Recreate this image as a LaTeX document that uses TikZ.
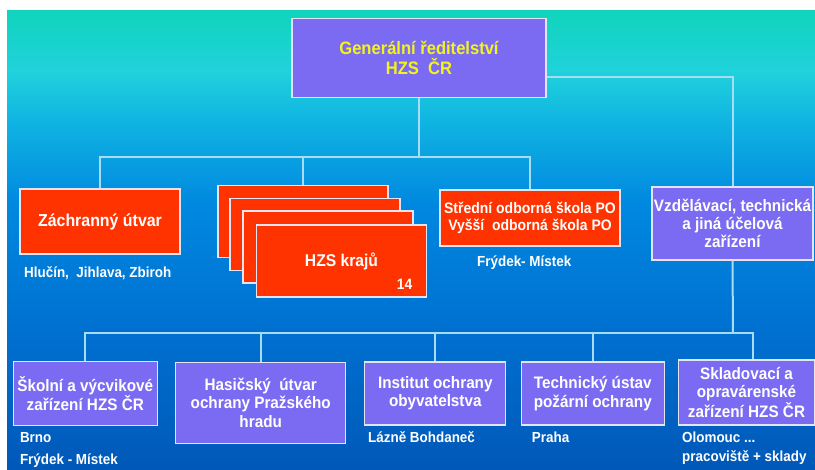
\documentclass[tikz,border=0pt]{standalone}
\usepackage{fontspec}
\usepackage{tikz}
\usetikzlibrary{positioning}
\newfontfamily\orgfont{Liberation Sans}[FakeStretch=0.92]
\newcommand{\headfont}{\orgfont\bfseries\fontsize{18pt}{19.5pt}\selectfont}
\newcommand{\unitfont}{\orgfont\bfseries\fontsize{16.6pt}{18.3pt}\selectfont}
\newcommand{\placefont}{\orgfont\bfseries\fontsize{14.6pt}{16pt}\selectfont}
\definecolor{boxpurple}{HTML}{7B6BF2}
\definecolor{boxred}{HTML}{FF3300}
\definecolor{boxedge}{HTML}{E4E4F4}
\definecolor{linkblue}{HTML}{A8DCF2}
\definecolor{headyellow}{HTML}{F4F41C}
\definecolor{bgtop}{HTML}{10D4BC}
\definecolor{bgcyan}{HTML}{20D2DC}
\definecolor{bgsky}{HTML}{10B4E2}
\definecolor{bgmid}{HTML}{0088E0}
\definecolor{bglow}{HTML}{0070D0}
\definecolor{bgbot}{HTML}{0058B8}
\pgfdeclareverticalshading{bgshade}{100bp}{color(0bp)=(bgbot); color(25bp)=(bgbot); color(40bp)=(bglow); color(54bp)=(bgmid); color(63bp)=(bgsky); color(68.5bp)=(bgcyan); color(75bp)=(bgtop); color(100bp)=(bgtop)}
\tikzstyle{unit}=[rectangle, draw=boxedge, line width=1.2pt, inner sep=0pt, align=center, text=white, font=\unitfont]
\tikzstyle{violetbox}=[unit, fill=boxpurple]
\tikzstyle{firebox}=[unit, fill=boxred]
\tikzstyle{link}=[-, draw=linkblue, line width=2pt]
\tikzstyle{place}=[anchor=base west, inner sep=0pt, text=white, font=\placefont]

\begin{document}
\begin{tikzpicture}[x=1pt, y=-1pt]
        \useasboundingbox (0,0) rectangle (815,470);
        \fill[white] (0,0) rectangle (815,470);
        \shade[shading=bgshade] (7,11) rectangle (815,470);

        % top level
        \node[violetbox, minimum width=254pt, minimum height=79pt, text=headyellow, font=\headfont] (gen) at (419,58) {Generální ředitelství\\HZS\ \ ČR};

        % second level
        \node[firebox, minimum width=160pt, minimum height=65pt, font=\orgfont\bfseries\fontsize{17.3pt}{19pt}\selectfont] (zach) at (100,221.5) {Záchranný útvar};
        \node[firebox, minimum width=170pt, minimum height=72pt] (kraj1) at (303,221.5) {};
        \node[firebox, minimum width=170pt, minimum height=72pt] (kraj2) at (315,234.5) {};
        \node[firebox, minimum width=170pt, minimum height=72pt] (kraj3) at (328,247) {};
        \node[firebox, minimum width=170pt, minimum height=72pt, font=\orgfont\bfseries\fontsize{17pt}{19pt}\selectfont] (kraj4) at (341.5,261) {HZS krajů};
        \node[anchor=base east, inner sep=0pt, text=white, font=\orgfont\bfseries\fontsize{15pt}{16pt}\selectfont] (pocet) at (412.5,290) {14};
        \node[firebox, minimum width=180pt, minimum height=56pt, font=\orgfont\bfseries\fontsize{15.2pt}{16.7pt}\selectfont] (skola) at (530,218) {Střední odborná škola PO\\Vyšší\ \ odborná škola PO};
        \node[violetbox, minimum width=161pt, minimum height=73pt] (vzdel) at (732.5,223.5) {Vzdělávací, technická\\a jiná účelová\\zařízení};

        % third level
        \node[violetbox, minimum width=144pt, minimum height=64pt] (skolni) at (85.3,393.7) {Školní a výcvikové\\zařízení HZS ČR};
        \node[violetbox, minimum width=170pt, minimum height=81pt] (hasic) at (260.7,402.8) {Hasičský\ \ útvar\\ochrany Pražského\\hradu};
        \node[violetbox, minimum width=141pt, minimum height=63pt] (inst) at (435.3,393.5) {Institut ochrany\\obyvatelstva};
        \node[violetbox, minimum width=143pt, minimum height=63pt] (tech) at (592.8,393.5) {Technický ústav\\požární ochrany};
        \node[violetbox, minimum width=136pt, minimum height=65pt] (sklad) at (746.5,392.5) {Skladovací a\\opravárenské\\zařízení HZS ČR};

        % places
        \node[place] (mzach) at (24,278) {Hlučín,\ \ Jihlava, Zbiroh};
        \node[place] (mskola) at (477,266.5) {Frýdek- Místek};
        \node[place] (mskolni1) at (19.8,443) {Brno};
        \node[place] (mskolni2) at (19.8,465) {Frýdek - Místek};
        \node[place] (minst) at (368,443) {Lázně Bohdaneč};
        \node[place] (mtech) at (531.7,443) {Praha};
        \node[place] (msklad1) at (682,443) {Olomouc ...};
        \node[place] (msklad2) at (682,462) {pracoviště + sklady};

        % connectors
        \coordinate (busA) at (419,157);
        \coordinate (busB) at (733,333.3);
        \coordinate (dropE) at (752.6,333.3);
        \draw[link] (gen.south) -- (busA);
        \draw[link] (zach.north) |- (busA) -| (skola.north);
        \draw[link] (kraj1.north) -- (kraj1.north |- busA);
        \draw[link] ([yshift=-19pt]gen.east) -| (vzdel.north);
        \draw[link] (vzdel.south) -- (busB);
        \draw[link] (skolni.north) |- (dropE) -- (dropE |- sklad.north);
        \draw[link] (hasic.north) -- (hasic.north |- busB);
        \draw[link] (inst.north) -- (inst.north |- busB);
        \draw[link] (tech.north) -- (tech.north |- busB);
    \end{tikzpicture}
\end{document}
